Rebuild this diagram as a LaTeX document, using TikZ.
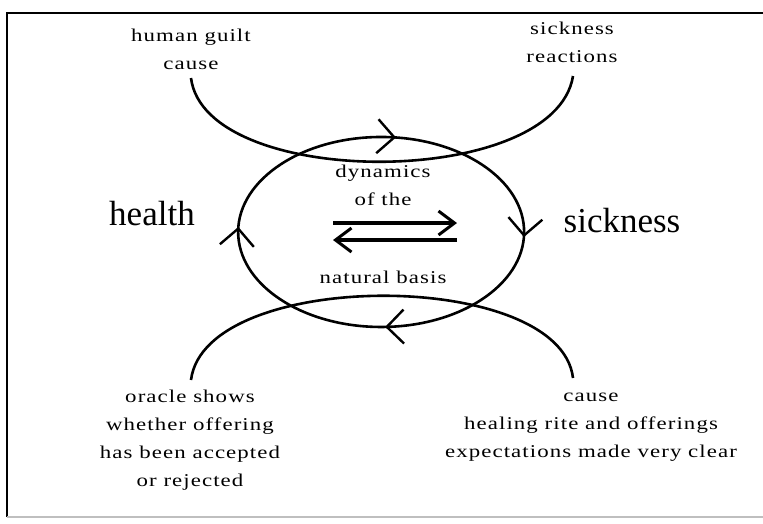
\documentclass[tikz,border=0pt]{standalone}
\usepackage{fontspec}
\setmainfont{Liberation Serif}
\newfontfamily\spacedfont[LetterSpace=6, FakeStretch=1.27]{Liberation Serif}
\usetikzlibrary{positioning,arrows.meta,decorations.markings}
\tikzset{
txt/.style={font=\spacedfont\fontsize{18}{28}\selectfont, align=center, inner sep=0pt},
stage/.style={font=\fontsize{35}{40}\selectfont, inner sep=0pt, anchor=base},
connect/.style={line width=2.6pt},
barb/.tip={Straight Barb[length=17pt, width=34pt, line width=2.4pt]},
flow/.style={line width=3.2pt, -{Straight Barb[length=16pt, width=24pt, line width=3pt]}},
cyclemarks/.style={postaction=decorate, decoration={markings,
  mark=at position 0.012 with {\arrow{barb}},
  mark=at position 0.25 with {\arrow{barb}},
  mark=at position 0.512 with {\arrow{barb}},
  mark=at position 0.775 with {\arrow{barb}}}}
}

\begin{document}
\begin{tikzpicture}[x=1pt, y=-1pt]
        \useasboundingbox (0,0) rectangle (763,523);
        % frame
        \draw[line width=2pt] (7,517) -- (7,13) -- (763,13);
        \draw[line width=1.5pt, black!25] (7,517) -- (763,517);

        % cycle of health and sickness
        \coordinate (centre) at (381,232);
        \draw[connect, cyclemarks] (centre) ++(143,-4) arc[start angle=-2.4, end angle=357.6, x radius=143, y radius=95];

        \node[stage] (health) at (152,225) {health};
        \node[stage] (sickness) at (622,232) {sickness};

        \node[txt] (dynamics) at (383,185) {dynamics\\of the};
        \node[txt] (basis) at (383,277) {natural basis};
        \coordinate (fwd_a) at (333,223);
        \coordinate (fwd_b) at (457,223);
        \coordinate (back_a) at (457,240);
        \coordinate (back_b) at (333,240);
        \draw[flow] (fwd_a) -- (fwd_b);
        \draw[flow] (back_a) -- (back_b);

        % upper loop
        \node[txt] (guilt) at (191,49) {human guilt\\cause};
        \node[txt] (reactions) at (572,42) {sickness\\reactions};
        \coordinate (guilt_end) at (191,78);
        \coordinate (reactions_end) at (573,76);
        \draw[connect] (guilt_end) .. controls (205,190) and (555,190) .. (reactions_end);

        % lower loop
        \node[txt] (oracle) at (190,440) {oracle shows\\whether offering\\has been accepted\\or rejected};
        \node[txt] (rite) at (591,427) {cause\\healing rite and offerings\\expectations made very clear};
        \coordinate (oracle_end) at (191,380);
        \coordinate (rite_end) at (573,378);
        \draw[connect] (oracle_end) .. controls (205,268) and (560,268) .. (rite_end);
    \end{tikzpicture}
\end{document}
